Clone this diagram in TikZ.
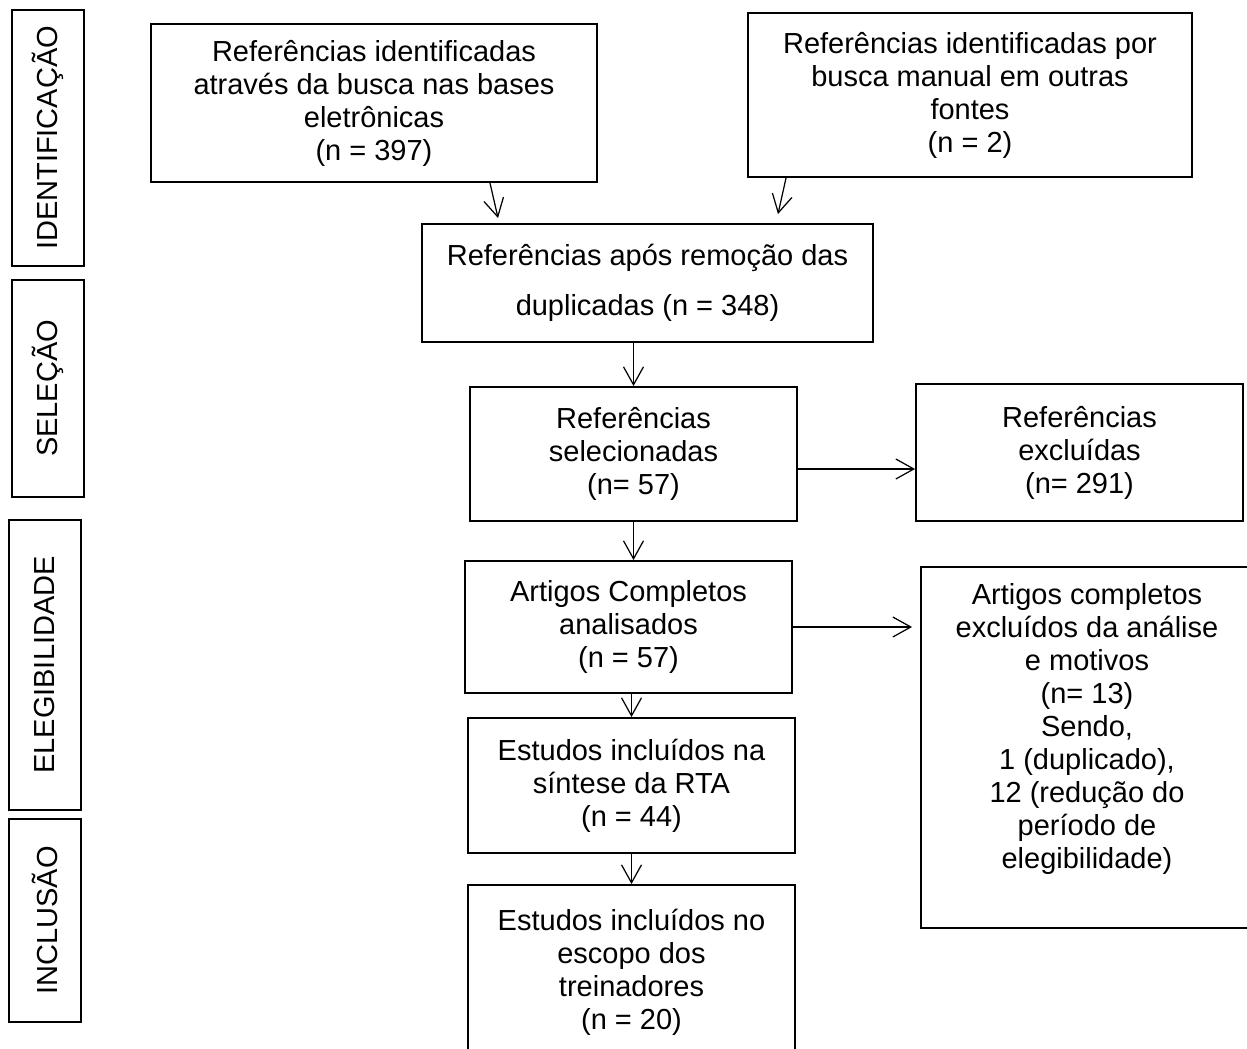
\documentclass[tikz,border=0pt]{standalone}
\usepackage{fontspec}
\setmainfont{Liberation Sans}
\usetikzlibrary{arrows.meta, positioning, calc}

\begin{document}
\begin{tikzpicture}[x=0.02cm, y=-0.02cm, >={Straight Barb[length=0.36cm, width=0.4cm]},
    caixa/.style={draw, line width=1.1pt, align=center, inner sep=2pt, font=\fontsize{16.5}{18.8}\selectfont},
    etapa/.style={caixa, rotate=90, minimum height=1.44cm},
    seta/.style={->, line width=0.7pt}]
    \useasboundingbox (0,0) rectangle (1247,1048);

    % fases
    \node (ident) [etapa, minimum width=5.12cm] at (48,138) {IDENTIFICAÇÃO};
    \node (selec) [etapa, minimum width=4.34cm] at (48,388.5) {SELEÇÃO};
    \node (elegib) [etapa, minimum width=5.8cm] at (45,665) {ELEGIBILIDADE};
    \node (inclus) [etapa, minimum width=4.06cm] at (45,920.5) {INCLUSÃO};

    % caixas do fluxo
    \node (busca) [caixa, minimum width=8.92cm, minimum height=3.16cm] at (374,103) {Referências identificadas\\através da busca nas bases\\eletrônicas\\(n = 397)};
    \node (manual) [caixa, minimum width=8.88cm, minimum height=3.28cm] at (970,95) {Referências identificadas por\\busca manual em outras\\fontes\\(n = 2)};
    \node (semdup) [caixa, minimum width=9.02cm, minimum height=2.36cm] at (647.5,283) {Referências após remoção das\\[10pt]duplicadas (n = 348)};
    \node (selecion) [caixa, minimum width=6.54cm, minimum height=2.68cm] at (633.5,454) {Referências\\selecionadas\\(n= 57)};
    \node (excluidas) [caixa, minimum width=6.54cm, minimum height=2.74cm] at (1079.5,452.5) {Referências\\excluídas\\(n= 291)};
    \node (analis) [caixa, minimum width=6.54cm, minimum height=2.64cm] at (628.5,627) {Artigos Completos\\analisados\\(n = 57)};
    \node (motivos) [caixa, minimum width=6.64cm, minimum height=7.22cm] at (1087,747.5) {Artigos completos\\excluídos da análise\\e motivos\\(n= 13)\\Sendo,\\1 (duplicado),\\12 (redução do\\período de\\elegibilidade)\\\strut};
    \node (sintese) [caixa, minimum width=6.54cm, minimum height=2.7cm] at (631.5,785.5) {Estudos incluídos na\\síntese da RTA\\(n = 44)};
    \node (escopo) [caixa, minimum width=6.54cm, minimum height=3.5cm] at (631.5,972.5) {Estudos incluídos no\\escopo dos\\treinadores\\(n = 20)};

    % setas
    \draw[seta] ([xshift=2.32cm]busca.south) -- ([xshift=-2.99cm, yshift=0.1cm]semdup.north);
    \draw[seta] ([xshift=-3.68cm]manual.south) -- ([xshift=2.61cm, yshift=0.18cm]semdup.north);
    \draw[seta] (semdup.south -| selecion.north) -- (selecion.north);
    \draw[seta] ([yshift=-0.3cm]selecion.east) -- ([yshift=-0.3cm]selecion.east -| excluidas.west);
    \draw[seta] (selecion.south) -- (selecion.south |- analis.north);
    \draw[seta] (analis.east) -- ([xshift=-0.16cm]analis.east -| motivos.west);
    \draw[seta] (sintese.north |- analis.south) -- (sintese.north);
    \draw[seta] (sintese.south) -- (escopo.north);
\end{tikzpicture}
\end{document}
